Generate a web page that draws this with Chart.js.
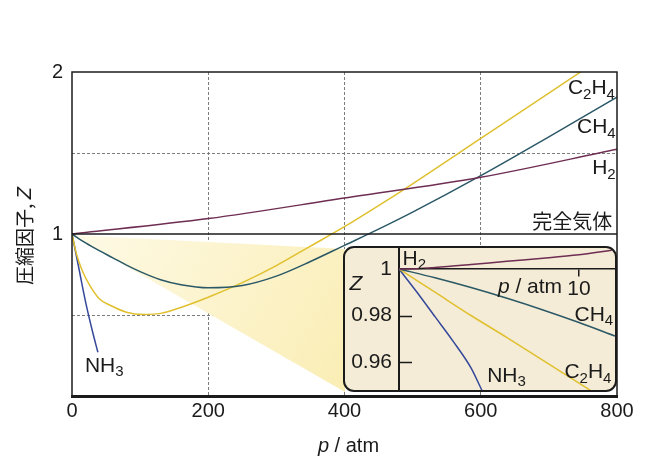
<!DOCTYPE html>
<html>
<head>
<meta charset="utf-8">
<script src="https://cdn.jsdelivr.net/npm/chart.js@4.4.1/dist/chart.umd.min.js"></script>
<style>
  html, body { margin: 0; padding: 0; background: #fff; }
  #wrap { position: relative; width: 648px; height: 462px; overflow: hidden; }
  #main { position: absolute; left: 0; top: 0; }
  #insetBox {
    position: absolute; box-sizing: border-box;
    border: 2px solid #1b1b1b; border-radius: 11px;
    background: #f4ecd6; overflow: hidden;
  }
  #inset { display: block; }
</style>
</head>
<body>
<div id="wrap">
  <canvas id="main" width="648" height="462"></canvas>
  <div id="insetBox"><canvas id="inset"></canvas></div>
</div>
<script>
/* ─── Data ───────────────────────────────────────────────── */
// main plot: p / atm  vs  Z
const IDEAL_P = [0, 800];
const IDEAL_Z = [1, 1];
const H2_P    = [0, 200, 400, 600, 800];
const H2_Z    = [1, 1.095, 1.222, 1.35, 1.523];
const CH4_P   = [0, 20, 40, 60, 80, 100, 130, 160, 200, 250, 300, 350, 400, 450, 500, 600, 700, 800];
const CH4_Z   = [1, 0.945, 0.897, 0.853, 0.808, 0.768, 0.718, 0.687, 0.668, 0.682, 0.74, 0.83, 0.93, 1.03, 1.135, 1.36, 1.60, 1.845];
const C2H4_P  = [0, 7, 15, 25, 40, 56, 80, 105, 130, 155, 200, 250, 300, 350, 400, 450, 500, 600, 700, 800];
const C2H4_Z  = [1, 0.87, 0.775, 0.69, 0.60, 0.56, 0.517, 0.503, 0.51, 0.54, 0.61, 0.70, 0.805, 0.925, 1.045, 1.175, 1.31, 1.59, 1.87, 2.15];
const NH3_P   = [0, 10, 20, 30, 38];
const NH3_Z   = [1, 0.79, 0.58, 0.40, 0.27];

// inset: low pressure region
const IN_H2_P   = [0, 1, 2, 4, 6, 8, 10, 12];
const IN_H2_Z   = [1, 1.0001, 1.0006, 1.0019, 1.0033, 1.0046, 1.0061, 1.0082];
const IN_CH4_P  = [0, 2, 4, 6, 8, 10, 12];
const IN_CH4_Z  = [1, 0.9962, 0.992, 0.9874, 0.9824, 0.977, 0.9712];
const IN_C2H4_P = [0, 2, 4, 6, 8, 10, 11];
const IN_C2H4_Z = [1, 0.990, 0.980, 0.9705, 0.9607, 0.951, 0.946];
const IN_NH3_P  = [0, 1, 2, 3, 4, 4.6, 5];
const IN_NH3_Z  = [1, 0.990, 0.9795, 0.969, 0.9575, 0.948, 0.942];

// ticks
const X_TICKS    = [0, 200, 400, 600, 800];
const Y_GRID     = [0, 0.5, 1, 1.5, 2];
const Y_LABELS   = [1, 2];
const IN_X_TICKS = [10];
const IN_Y_TICKS = [1, 0.98, 0.96];

/* ─── Style ──────────────────────────────────────────────── */
const INK    = '#1b1b1b';
const GRID   = '#7c7c7c';
const C_H2   = '#6e2d52';
const C_CH4  = '#2b5866';
const C_C2H4 = '#e0c02e';
const C_NH3  = '#34489a';
const SANS   = '"Liberation Sans", Arial, sans-serif';
const CJK    = '"Noto Sans CJK JP", "Noto Sans", sans-serif';

// inset box (outer border box, page px)
const BOX = { left: 343, top: 246, width: 274, height: 146 };
const boxEl = document.getElementById('insetBox');
Object.assign(boxEl.style, {
  left: BOX.left + 'px', top: BOX.top + 'px',
  width: BOX.width + 'px', height: BOX.height + 'px',
});
const insetCanvas = document.getElementById('inset');
insetCanvas.width = BOX.width - 4;
insetCanvas.height = BOX.height - 4;

/* ─── Helpers ────────────────────────────────────────────── */
const pts = (ps, zs) => ps.map((p, i) => ({ x: p, y: zs[i] }));

const line = (label, ps, zs, color, width) => ({
  label,
  data: pts(ps, zs),
  borderColor: color,
  borderWidth: width || 1.5,
  pointRadius: 0,
  fill: false,
  cubicInterpolationMode: 'monotone',
});

// draw text runs (mixed fonts / subscripts) anchored at x
function drawRuns(ctx, runs, x, y, align) {
  let w = 0;
  runs.forEach(r => { ctx.font = r.font; r.w = ctx.measureText(r.t).width; w += r.w; });
  let cx = align === 'right' ? x - w : align === 'center' ? x - w / 2 : x;
  ctx.textAlign = 'left';
  ctx.textBaseline = 'middle';
  ctx.fillStyle = INK;
  runs.forEach(r => { ctx.font = r.font; ctx.fillText(r.t, cx, y + (r.dy || 0)); cx += r.w; });
}

function formula(text, size) {
  const sub = Math.round(size * 0.7);
  return text.match(/[A-Za-z]+|\d+/g).map(s => /\d/.test(s)
    ? { t: s, font: `${sub}px ${SANS}`, dy: size * 0.3 }
    : { t: s, font: `${size}px ${SANS}` });
}

/* ─── Labels (anchored in data units) ────────────────────── */
const MAIN_LABELS = [
  { text: 'C2H4', p: 797, z: 1.90, align: 'right' },
  { text: 'CH4',  p: 798, z: 1.66, align: 'right' },
  { text: 'H2',   p: 798, z: 1.407, align: 'right' },
  { text: 'NH3',  p: 19,  z: 0.185, align: 'left' },
];
const INSET_LABELS = [
  { text: 'H2',   p: 0.2,  z: 1.0043, align: 'left' },
  { text: 'CH4',  p: 11.9, z: 0.9802, align: 'right' },
  { text: 'C2H4', p: 11.8, z: 0.9557, align: 'right' },
  { text: 'NH3',  p: 4.9,  z: 0.954,  align: 'left' },
];

/* ─── Main chart decorations ─────────────────────────────── */
const mainDecor = {
  id: 'mainDecor',
  beforeDatasetsDraw(chart) {
    const { ctx, scales: { x, y } } = chart;
    const ox = x.getPixelForValue(0), oy = y.getPixelForValue(1);
    const bx = BOX.left + 2, bt = BOX.top + 3, bb = BOX.top + BOX.height;
    const g = ctx.createLinearGradient(ox, oy, bx, bb);
    g.addColorStop(0, '#fefae6');
    g.addColorStop(1, '#faedb4');
    ctx.save();
    ctx.fillStyle = g;
    ctx.beginPath();
    ctx.moveTo(ox, oy + 1);
    ctx.lineTo(bx, bt);
    ctx.lineTo(bx, bb);
    ctx.closePath();
    ctx.fill();
    ctx.restore();
  },
  afterDatasetsDraw(chart) {
    const { ctx, chartArea: a, scales: { x, y } } = chart;
    ctx.save();
    // frame
    ctx.strokeStyle = INK;
    ctx.lineWidth = 1.5;
    ctx.strokeRect(a.left, a.top, a.right - a.left, a.bottom - a.top);
    ctx.lineWidth = 3;
    ctx.beginPath();
    ctx.moveTo(a.left - 1, a.bottom + 0.5);
    ctx.lineTo(a.right + 1, a.bottom + 0.5);
    ctx.stroke();

    // series labels
    MAIN_LABELS.forEach(l =>
      drawRuns(ctx, formula(l.text, 21), x.getPixelForValue(l.p), y.getPixelForValue(l.z), l.align));
    drawRuns(ctx, [{ t: '完全気体', font: `20px ${CJK}` }],
      x.getPixelForValue(793), y.getPixelForValue(1.08), 'right');

    // axis titles
    drawRuns(ctx, [
      { t: 'p', font: `italic 20px ${SANS}` },
      { t: ' / atm', font: `20px ${SANS}` },
    ], (a.left + a.right) / 2 + 4, 446, 'center');

    ctx.translate(25, (a.top + a.bottom) / 2 + 2);
    ctx.rotate(-Math.PI / 2);
    drawRuns(ctx, [
      { t: '圧縮因子, ', font: `19px ${CJK}` },
      { t: 'Z', font: `italic 20px ${SANS}` },
    ], 0, 0, 'center');
    ctx.restore();
  },
};

/* ─── Main chart ─────────────────────────────────────────── */
new Chart(document.getElementById('main'), {
  type: 'line',
  data: {
    datasets: [
      line('完全気体', IDEAL_P, IDEAL_Z, INK, 1.6),
      line('H2', H2_P, H2_Z, C_H2),
      line('CH4', CH4_P, CH4_Z, C_CH4),
      line('C2H4', C2H4_P, C2H4_Z, C_C2H4),
      line('NH3', NH3_P, NH3_Z, C_NH3),
    ],
  },
  options: {
    responsive: false,
    animation: false,
    devicePixelRatio: 1,
    layout: { padding: { top: 72, right: 31, left: 0, bottom: 0 } },
    plugins: { legend: { display: false }, tooltip: { enabled: false } },
    scales: {
      x: {
        type: 'linear', min: 0, max: 800,
        afterBuildTicks: s => { s.ticks = X_TICKS.map(v => ({ value: v })); },
        afterFit: s => { s.height = 66; },
        grid: {
          color: c => (c.tick && c.tick.value > 0 && c.tick.value < 800) ? GRID : 'rgba(0,0,0,0)',
          lineWidth: 1,
          drawTicks: false,
        },
        border: { display: false, dash: [3, 2] },
        ticks: { color: INK, font: { family: SANS, size: 20 }, padding: 3, maxRotation: 0 },
      },
      y: {
        type: 'linear', min: 0, max: 2,
        afterBuildTicks: s => { s.ticks = Y_GRID.map(v => ({ value: v })); },
        afterFit: s => { s.width = 72; },
        grid: {
          color: c => (c.tick && (c.tick.value === 0.5 || c.tick.value === 1.5)) ? GRID : 'rgba(0,0,0,0)',
          lineWidth: 1,
          drawTicks: false,
        },
        border: { display: false, dash: [3, 2] },
        ticks: {
          color: INK, font: { family: SANS, size: 20 }, padding: 9,
          callback: v => Y_LABELS.includes(v) ? String(v) : '',
        },
      },
    },
  },
  plugins: [mainDecor],
});

/* ─── Inset decorations ──────────────────────────────────── */
const insetDecor = {
  id: 'insetDecor',
  afterDatasetsDraw(chart) {
    const { ctx, scales: { x, y } } = chart;
    ctx.save();
    // inner tick marks on the Z axis
    ctx.strokeStyle = INK;
    ctx.lineWidth = 1.5;
    IN_Y_TICKS.slice(1).forEach(v => {
      const py = Math.round(y.getPixelForValue(v)) + 0.5;
      ctx.beginPath();
      ctx.moveTo(x.left, py);
      ctx.lineTo(x.left + 13, py);
      ctx.stroke();
    });
    INSET_LABELS.forEach(l =>
      drawRuns(ctx, formula(l.text, 21), x.getPixelForValue(l.p), y.getPixelForValue(l.z), l.align));
    drawRuns(ctx, [
      { t: 'p', font: `italic 21px ${SANS}` },
      { t: ' / atm', font: `21px ${SANS}` },
    ], x.getPixelForValue(9.06), y.getPixelForValue(0.9922), 'right');
    drawRuns(ctx, [{ t: 'Z', font: `italic 21px ${SANS}` }], 11, y.getPixelForValue(0.9935), 'center');
    ctx.restore();
  },
};

/* ─── Inset chart ────────────────────────────────────────── */
new Chart(insetCanvas, {
  type: 'line',
  data: {
    datasets: [
      line('H2', IN_H2_P, IN_H2_Z, C_H2),
      line('CH4', IN_CH4_P, IN_CH4_Z, C_CH4),
      line('C2H4', IN_C2H4_P, IN_C2H4_Z, C_C2H4),
      line('NH3', IN_NH3_P, IN_NH3_Z, C_NH3),
    ],
  },
  options: {
    responsive: false,
    animation: false,
    devicePixelRatio: 1,
    layout: { padding: 0 },
    plugins: { legend: { display: false }, tooltip: { enabled: false } },
    scales: {
      x: {
        type: 'linear', min: 0, max: 12,
        position: { y: 1 },
        afterBuildTicks: s => { s.ticks = IN_X_TICKS.map(v => ({ value: v })); },
        afterFit: s => { s.paddingLeft = 0; s.paddingRight = 0; s.paddingTop = 0; s.paddingBottom = 0; },
        grid: { drawOnChartArea: false, drawTicks: true, tickLength: 7, color: INK, lineWidth: 1.5 },
        border: { display: true, color: INK, width: 1.5 },
        ticks: { color: INK, font: { family: SANS, size: 21 }, padding: 1, maxRotation: 0 },
      },
      y: {
        type: 'linear', min: 0.948, max: 1.009,
        afterBuildTicks: s => { s.ticks = IN_Y_TICKS.map(v => ({ value: v })); },
        afterFit: s => { s.width = 54; s.paddingTop = 0; s.paddingBottom = 0; },
        grid: { drawOnChartArea: false, drawTicks: false },
        border: { display: true, color: INK, width: 2 },
        ticks: {
          color: INK, font: { family: SANS, size: 21 }, padding: 7, autoSkip: false,
          callback: v => String(v),
        },
      },
    },
  },
  plugins: [insetDecor],
});
</script>
</body>
</html>
